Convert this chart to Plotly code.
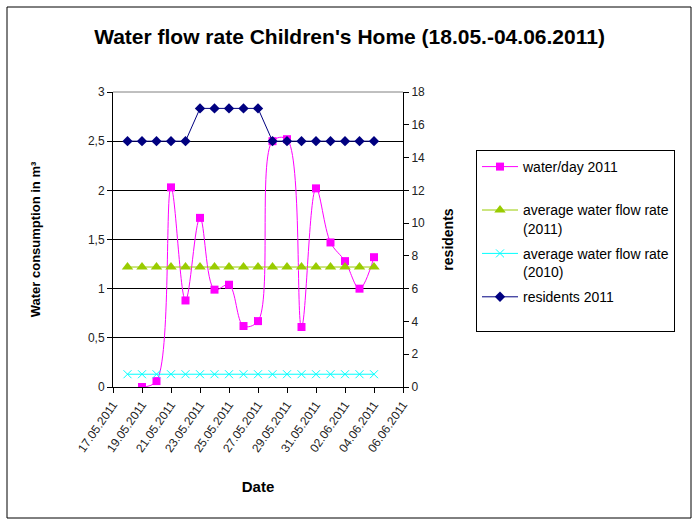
import plotly.graph_objects as go

dates_all = ["2011-05-%02d" % d for d in range(18, 32)] + ["2011-06-%02d" % d for d in range(1, 5)]
dates_water = dates_all[1:]
water_2011 = [0.0, 0.06, 2.03, 0.88, 1.72, 0.99, 1.04, 0.62, 0.67, 2.50, 2.52, 0.61, 2.02, 1.47, 1.28, 1.00, 1.32]
avg_2011 = [1.22] * 18
avg_2010 = [0.13] * 18
residents = [15, 15, 15, 15, 15, 17, 17, 17, 17, 17, 15, 15, 15, 15, 15, 15, 15, 15]
left_ticks = [0, 0.5, 1, 1.5, 2, 2.5, 3]
left_labels = ["0", "0,5", "1", "1,5", "2", "2,5", "3"]
right_ticks = list(range(0, 19, 2))

F = "Liberation Sans, Arial, sans-serif"
fig = go.Figure()
fig.add_trace(go.Scatter(x=dates_water, y=water_2011, name="water/day 2011<br> ", mode="lines+markers",
                         legendgroup="a",
                         line=dict(color="#FF00FF", width=1, shape="spline", smoothing=1.0),
                         marker=dict(symbol="square", size=8, color="#FF00FF")))
fig.add_trace(go.Scatter(x=dates_all, y=avg_2011, name="average water flow rate<br>(2011)", mode="lines+markers",
                         legendgroup="b",
                         line=dict(color="#99CC00", width=1),
                         marker=dict(symbol="triangle-up", size=10, color="#99CC00")))
fig.add_trace(go.Scatter(x=dates_all, y=avg_2010, name="average water flow rate<br>(2010)", mode="lines+markers",
                         legendgroup="c",
                         line=dict(color="#00FFFF", width=1),
                         marker=dict(symbol="x-thin", size=8, line=dict(color="#00FFFF", width=1), color="#00FFFF")))
fig.add_trace(go.Scatter(x=dates_all, y=residents, name="residents 2011<br> ", mode="lines+markers", yaxis="y2",
                         legendgroup="d",
                         line=dict(color="#000080", width=1),
                         marker=dict(symbol="diamond", size=8, color="#000080")))

fig.update_layout(
    width=699, height=526,
    margin=dict(l=113, r=296, t=92, b=139),
    paper_bgcolor="white", plot_bgcolor="white",
    font=dict(family=F, size=12, color="#000000"),
    title=dict(text="<b>Water flow rate Children's Home (18.05.-04.06.2011)</b>", x=0.5, xref="container",
               xanchor="center", y=1 - 37 / 526, yanchor="middle", font=dict(size=21, family=F)),
    xaxis=dict(type="date", range=["2011-05-17", "2011-06-06"], tick0="2011-05-17", dtick=2 * 86400000,
               tickformat="%d.%m.%Y", tickangle=-55, ticks="outside", ticklen=5, tickcolor="black",
               showline=True, linecolor="black", linewidth=1, showgrid=False, zeroline=False,
               tickfont=dict(size=12, color="#222"),
               title=dict(text="<b>Date</b>", font=dict(size=15), standoff=27)),
    yaxis=dict(range=[0, 3], tickvals=left_ticks, ticktext=left_labels, ticks="outside", ticklen=5,
               tickcolor="black", showline=True, linecolor="black", showgrid=True, gridcolor="black",
               gridwidth=1, zeroline=False, tickfont=dict(size=12, color="#222"),
               title=dict(text="<b>Water consumption in m³</b>", font=dict(size=13), standoff=44)),
    yaxis2=dict(range=[0, 18], tickvals=right_ticks, overlaying="y", side="right", ticks="outside",
                ticklen=5, tickcolor="black", showline=True, linecolor="black", showgrid=False,
                zeroline=False, tickfont=dict(size=12, color="#222"),
                title=dict(text="<b>residents</b>", font=dict(size=14), standoff=19)),
    legend=dict(x=(476 - 113) / 290, y=(387 - 150) / 295, xanchor="left", yanchor="top",
                bordercolor="black", borderwidth=1, bgcolor="white", valign="top",
                font=dict(size=14, family=F), tracegroupgap=4, itemwidth=36),
    showlegend=True,
)
# top border of plot area (gray)
fig.add_shape(type="line", xref="paper", yref="paper", x0=0, x1=1, y0=1, y1=1,
              line=dict(color="#808080", width=1))
# outer chart border
fig.add_shape(type="rect", xref="paper", yref="paper",
              x0=(7 - 113) / 290, x1=(691 - 113) / 290, y0=(387 - 518) / 295, y1=(387 - 7) / 295,
              line=dict(color="black", width=1))
fig.write_html("out.html", config={"displayModeBar": False},
               post_script="document.body.style.margin='0px';")
